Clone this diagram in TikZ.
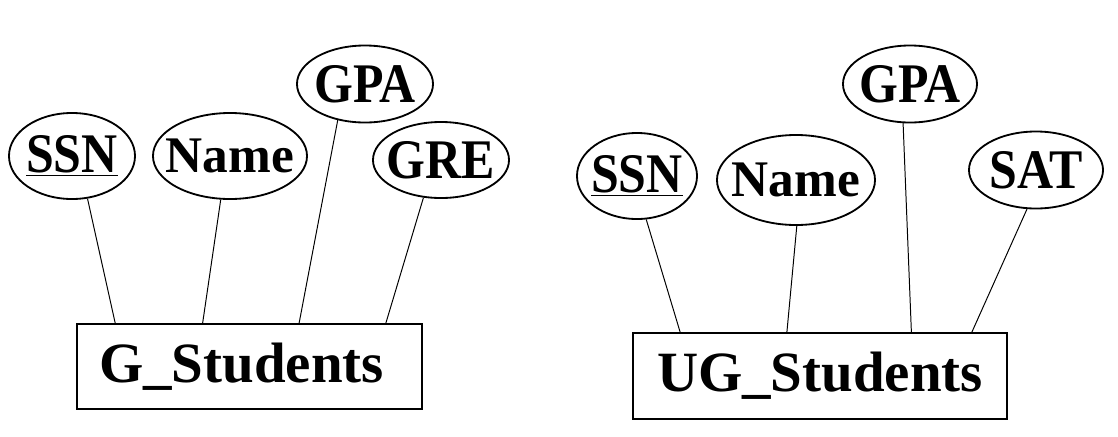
\documentclass[tikz,border=0pt]{standalone}
\usepackage{fontspec}
\setmainfont{Liberation Serif}
\usepackage{graphicx}
\usetikzlibrary{shapes.geometric,calc}
\tikzset{
  attr/.style={draw,ellipse,line width=1.3pt,inner sep=-1cm,font=\fontsize{35.5}{40}\selectfont\bfseries},
  namefont/.style={font=\fontsize{36.5}{42}\selectfont\bfseries},
  entity/.style={draw,rectangle,line width=1.4pt,inner sep=0pt,font=\fontsize{40.5}{46}\selectfont\bfseries},
  link/.style={line width=0.7pt}
}
\newcommand{\tallword}[1]{\scalebox{1}[1.12]{#1}}

\begin{document}
\begin{tikzpicture}[x=0.025cm,y=-0.025cm]
\useasboundingbox (0,0) rectangle (1118,436);
% graduate students
\node[entity,minimum width=8.625cm,minimum height=2.125cm] (gs) at (249.5,366.5) {G\_Students\hspace*{0.4cm}};
\node[attr,minimum width=3.15cm,minimum height=2.15cm] (gssn) at (72,156) {\tallword{\underline{SSN}}};
\node[attr,namefont,minimum width=3.85cm,minimum height=2.15cm] (gname) at (230,156) {Name};
\node[attr,minimum width=3.4cm,minimum height=1.925cm] (ggpa) at (365,84) {\tallword{GPA}};
\node[attr,minimum width=3.4cm,minimum height=1.9cm] (ggre) at (441,160) {\tallword{GRE}};
\draw[link] (gssn.-70) -- ($(gs.north west)!0.113!(gs.north east)$);
\draw[link] (gname.-102) -- ($(gs.north west)!0.365!(gs.north east)$);
\draw[link] (ggpa.-127) -- ($(gs.north west)!0.643!(gs.north east)$);
\draw[link] (ggre.-115) -- ($(gs.north west)!0.893!(gs.north east)$);
% undergraduate students
\node[entity,minimum width=9.35cm,minimum height=2.15cm] (ugs) at (820,376) {UG\_Students};
\node[attr,minimum width=3.0cm,minimum height=2.15cm] (ugssn) at (637,176) {\tallword{\underline{SSN}}};
\node[attr,namefont,minimum width=3.95cm,minimum height=2.25cm] (ugname) at (796,180) {Name};
\node[attr,minimum width=3.35cm,minimum height=1.925cm] (uggpa) at (910,84) {\tallword{GPA}};
\node[attr,minimum width=3.35cm,minimum height=1.925cm] (ugsat) at (1036,170) {\tallword{SAT}};
\draw[link] (ugssn.-78) -- ($(ugs.north west)!0.128!(ugs.north east)$);
\draw[link] (ugname.-89) -- ($(ugs.north west)!0.412!(ugs.north east)$);
\draw[link] (uggpa.-100) -- ($(ugs.north west)!0.743!(ugs.north east)$);
\draw[link] (ugsat.-103) -- ($(ugs.north west)!0.904!(ugs.north east)$);
\end{tikzpicture}
\end{document}
